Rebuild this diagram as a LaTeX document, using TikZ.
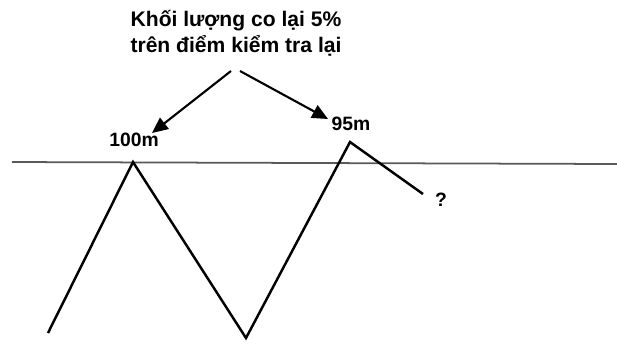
\documentclass[tikz,border=0pt]{standalone}
\usepackage{fontspec}
\setmainfont{Liberation Sans}
\usetikzlibrary{arrows.meta, positioning}

\begin{document}
\begin{tikzpicture}[
          x=0.02cm, y=-0.02cm,
          lbl/.style={font=\bfseries\fontsize{11}{14}\selectfont, inner sep=1pt},
          wave/.style={line width=1.4pt, line join=miter},
          pointer/.style={line width=1.2pt, -{Triangle[length=9pt,width=8pt]}}
        ]
          \useasboundingbox (0,0) rectangle (617,343);
          % level line
          \coordinate (l0) at (12,162);
          \coordinate (l1) at (617,164);
          \draw[line width=1pt, black!65] (l0) -- (l1);
          % price swings
          \coordinate (p0) at (48,333);
          \coordinate (p1) at (133,162);
          \coordinate (p2) at (246,338);
          \coordinate (p3) at (350,142);
          \coordinate (p4) at (423,194);
          \draw[wave] (p0) -- (p1) -- (p2) -- (p3) -- (p4);
          % labels
          \node[lbl, align=center, font=\bfseries\fontsize{12}{14.8}\selectfont] (title) at (236,33) {Khối lượng co lại 5\%\\trên điểm kiểm tra lại};
          \node[lbl] (h1) at (134,140) {100m};
          \node[lbl] (h2) at (351,124) {95m};
          \node[lbl] (q) at (441,200) {?};
          \coordinate (s1) at (231,71);
          \coordinate (s2) at (240,71);
          \draw[pointer] (s1) -- (152,133);
          \draw[pointer] (s2) -- (328,119);
        \end{tikzpicture}
\end{document}
